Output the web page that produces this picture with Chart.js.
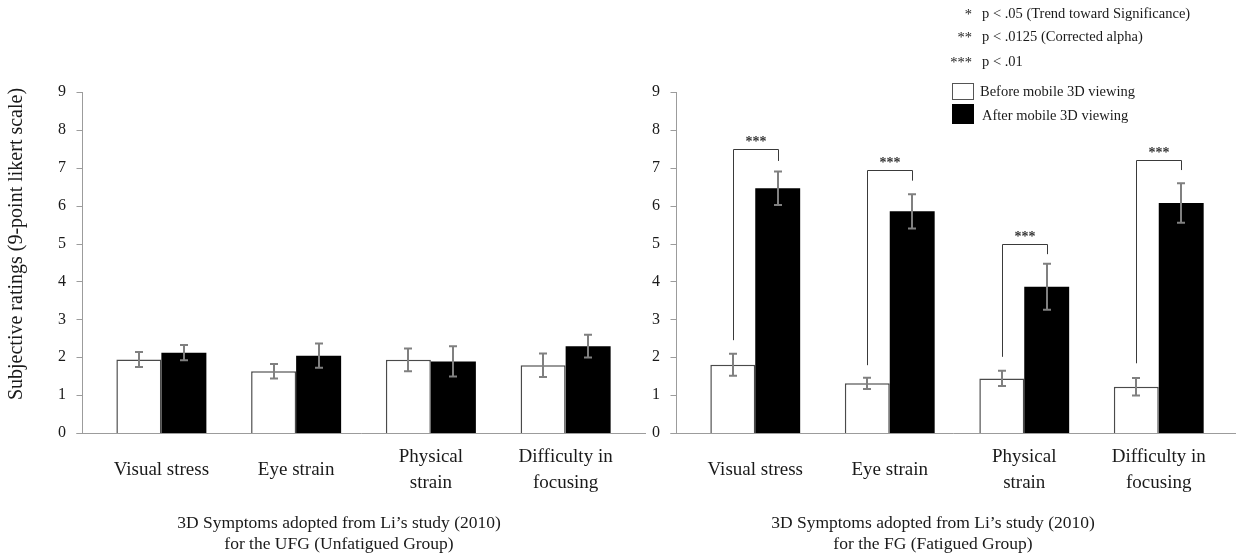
<!DOCTYPE html>
<html><head><meta charset="utf-8">
<script src="https://cdn.jsdelivr.net/npm/chart.js@4.4.0/dist/chart.umd.min.js"></script>
<style>
html,body{margin:0;padding:0;background:#fff;width:1236px;height:555px;overflow:hidden;}
#wrapL{position:absolute;left:0;top:0;width:646px;height:555px;}
#wrapR{position:absolute;left:594px;top:0;width:642px;height:555px;}
</style></head><body>
<div id="wrapL"><canvas id="cL"></canvas></div>
<div id="wrapR"><canvas id="cR"></canvas></div>
<script>
// ---- data ----
const categories = [["Visual stress"], ["Eye strain"], ["Physical", "strain"], ["Difficulty in", "focusing"]];
const yTicks = [0, 1, 2, 3, 4, 5, 6, 7, 8, 9];
const seriesNames = ["Before mobile 3D viewing", "After mobile 3D viewing"];

const ufgBefore    = [1.94, 1.63, 1.93, 1.79];
const ufgBeforeErr = [0.20, 0.19, 0.30, 0.31];
const ufgAfter     = [2.12, 2.04, 1.89, 2.29];
const ufgAfterErr  = [0.20, 0.32, 0.40, 0.30];

const fgBefore     = [1.80, 1.31, 1.44, 1.22];
const fgBeforeErr  = [0.29, 0.15, 0.20, 0.23];
const fgAfter      = [6.46, 5.85, 3.86, 6.07];
const fgAfterErr   = [0.44, 0.45, 0.61, 0.52];

// significance brackets (FG): start above "before", top, end above "after"
const fgSigStart = [2.45, 1.79, 2.01, 1.84];
const fgSigTop   = [7.49, 6.94, 4.98, 7.20];
const fgSigEnd   = [7.18, 6.66, 4.72, 6.94];
const fgSigMark  = ["***", "***", "***", "***"];

const legendNotes = [["*", "p < .05 (Trend toward Significance)"], ["**", "p < .0125 (Corrected alpha)"], ["***", "p < .01"]];
const yTitle = "Subjective ratings (9-point likert scale)";
const ufgTitle = ["3D Symptoms adopted from Li\u2019s study (2010)", "for the UFG (Unfatigued Group)"];
const fgTitle  = ["3D Symptoms adopted from Li\u2019s study (2010)", "for the FG (Fatigued Group)"];

// ---- style ----
const FONT = "'Liberation Serif', 'Times New Roman', serif";
const AXIS_GREY = '#9c9c9c';
const TEXT = '#1a1a1a';

const axesPlugin = {
  id: 'axesLines',
  beforeDatasetsDraw(chart) {
    const {ctx, chartArea, scales: {y}} = chart;
    const ax = Math.round(chartArea.left - 12) + 0.5;
    ctx.save();
    ctx.strokeStyle = AXIS_GREY; ctx.lineWidth = 1;
    ctx.beginPath();
    ctx.moveTo(ax, y.getPixelForValue(yTicks[yTicks.length - 1]));
    ctx.lineTo(ax, y.getPixelForValue(0));
    yTicks.forEach(t => {
      const py = Math.round(y.getPixelForValue(t)) + 0.5;
      ctx.moveTo(ax - 6, py); ctx.lineTo(ax, py);
    });
    const p0 = Math.round(y.getPixelForValue(0)) + 0.5;
    ctx.moveTo(ax - 6, p0); ctx.lineTo(chart.width, p0);
    ctx.stroke();
    ctx.restore();
  }
};

const errorBarPlugin = {
  id: 'errorBars',
  afterDatasetsDraw(chart) {
    const {ctx, scales: {y}} = chart;
    ctx.save();
    ctx.strokeStyle = '#808080'; ctx.lineWidth = 2;
    chart.data.datasets.forEach((ds, di) => {
      const meta = chart.getDatasetMeta(di);
      meta.data.forEach((bar, i) => {
        const v = ds.data[i], e = ds.errors[i];
        const x = Math.round(bar.x);
        const yt = y.getPixelForValue(v + e), yb = y.getPixelForValue(v - e);
        ctx.beginPath();
        ctx.moveTo(x, yt); ctx.lineTo(x, yb);
        ctx.moveTo(x - 4, yt); ctx.lineTo(x + 4, yt);
        ctx.moveTo(x - 4, yb); ctx.lineTo(x + 4, yb);
        ctx.stroke();
      });
    });
    ctx.restore();
  }
};

function titlePlugin(lines, cx) {
  return {
    id: 'bottomTitle',
    afterDraw(chart) {
      const ctx = chart.ctx;
      ctx.save();
      ctx.fillStyle = TEXT; ctx.font = "17.5px " + FONT;
      ctx.textAlign = 'center'; ctx.textBaseline = 'middle';
      ctx.fillText(lines[0], cx, 523);
      ctx.fillText(lines[1], cx, 544);
      ctx.restore();
    }
  };
}

const yTitlePlugin = {
  id: 'yTitle',
  afterDraw(chart) {
    const ctx = chart.ctx;
    ctx.save();
    ctx.translate(17, 244);
    ctx.rotate(-Math.PI / 2);
    ctx.fillStyle = TEXT; ctx.font = "20px " + FONT;
    ctx.textAlign = 'center'; ctx.textBaseline = 'middle';
    ctx.fillText(yTitle, 0, 0);
    ctx.restore();
  }
};

const bracketPlugin = {
  id: 'brackets',
  afterDatasetsDraw(chart) {
    const {ctx, scales: {y}} = chart;
    const m0 = chart.getDatasetMeta(0), m1 = chart.getDatasetMeta(1);
    ctx.save();
    ctx.strokeStyle = '#3a3a3a'; ctx.lineWidth = 1;
    ctx.fillStyle = '#333'; ctx.font = "bold 14px " + FONT;
    ctx.textAlign = 'center'; ctx.textBaseline = 'alphabetic';
    fgSigTop.forEach((top, i) => {
      const xl = Math.round(m0.data[i].x) + 0.5, xr = Math.round(m1.data[i].x) + 0.5;
      const yt = Math.round(y.getPixelForValue(top)) + 0.5;
      ctx.beginPath();
      ctx.moveTo(xl, y.getPixelForValue(fgSigStart[i]));
      ctx.lineTo(xl, yt); ctx.lineTo(xr, yt);
      ctx.lineTo(xr, y.getPixelForValue(fgSigEnd[i]));
      ctx.stroke();
      ctx.fillText(fgSigMark[i], (xl + xr) / 2, yt - 4);
    });
    ctx.restore();
  }
};

const legendPlugin = {
  id: 'legendNotes',
  afterDraw(chart) {
    const ctx = chart.ctx;
    ctx.save();
    ctx.fillStyle = TEXT; ctx.font = "14.5px " + FONT;
    ctx.textBaseline = 'alphabetic';
    const baselines = [18, 41, 66];
    legendNotes.forEach((n, i) => {
      ctx.textAlign = 'right'; ctx.fillText(n[0], 378, baselines[i] + 1);
      ctx.textAlign = 'left'; ctx.fillText(n[1], 388, baselines[i]);
    });
    ctx.strokeStyle = '#555'; ctx.lineWidth = 1;
    ctx.fillStyle = '#fff';
    ctx.fillRect(358, 83, 21, 16); ctx.strokeRect(358.5, 83.5, 21, 16);
    ctx.fillStyle = '#000';
    ctx.fillRect(358, 104, 22, 20);
    ctx.fillStyle = TEXT; ctx.textAlign = 'left';
    ctx.fillText(seriesNames[0], 386, 96);
    ctx.fillText(seriesNames[1], 388, 120);
    ctx.restore();
  }
};

function makeChart(id, before, beforeErr, after, afterErr, padRight, extraPlugins) {
  return new Chart(document.getElementById(id), {
    type: 'bar',
    data: {
      labels: categories,
      datasets: [
        {label: seriesNames[0], data: before, errors: beforeErr, backgroundColor: '#ffffff', borderColor: '#4a4a4a',
         borderWidth: {top: 1.5, left: 1.5, right: 1.5, bottom: 0}, borderSkipped: false},
        {label: seriesNames[1], data: after, errors: afterErr, backgroundColor: '#000000', borderWidth: 0}
      ]
    },
    options: {
      responsive: true, maintainAspectRatio: false, animation: false,
      layout: {padding: {top: 92, left: 0, right: padRight, bottom: 0}},
      datasets: {bar: {categoryPercentage: 0.668, barPercentage: 1.0}},
      plugins: {legend: {display: false}, tooltip: {enabled: false}},
      scales: {
        x: {
          grid: {display: false, drawTicks: false}, border: {display: false},
          ticks: {font: {family: FONT, size: 19, lineHeight: 1.35}, color: TEXT, padding: 24,
                  autoSkip: false, maxRotation: 0, minRotation: 0, crossAlign: 'center'},
          afterFit(s) { s.height = 122; }
        },
        y: {
          min: yTicks[0], max: yTicks[yTicks.length - 1],
          afterBuildTicks(s) { s.ticks = yTicks.map(v => ({value: v})); },
          ticks: {font: {family: FONT, size: 16}, color: TEXT, padding: 28},
          grid: {display: false, drawTicks: false}, border: {display: false},
          afterFit(s) { s.width = 94; }
        }
      }
    },
    plugins: [axesPlugin, errorBarPlugin].concat(extraPlugins)
  });
}

makeChart('cL', ufgBefore, ufgBeforeErr, ufgAfter, ufgAfterErr, 13, [yTitlePlugin, titlePlugin(ufgTitle, 339)]);
makeChart('cR', fgBefore, fgBeforeErr, fgAfter, fgAfterErr, 10, [bracketPlugin, legendPlugin, titlePlugin(fgTitle, 339)]);
</script>
</body></html>
